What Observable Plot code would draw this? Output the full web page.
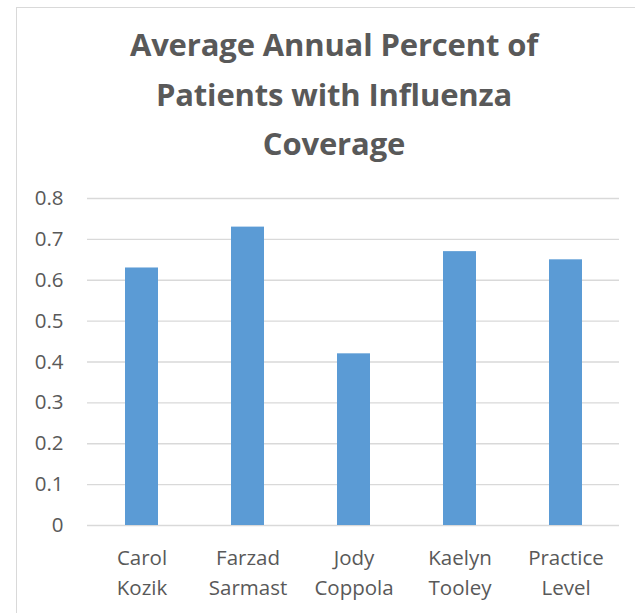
<!DOCTYPE html>
<html>
<head>
<meta charset="utf-8">
<script src="https://cdn.jsdelivr.net/npm/d3@7"></script>
<script src="https://cdn.jsdelivr.net/npm/@observablehq/plot@0.6"></script>
<style>
  html, body { margin: 0; padding: 0; background: #fff; overflow: hidden; }
  body { width: 635px; height: 613px; position: relative; font-family: "Open Sans", sans-serif; }
  #frame { position: absolute; left: 16px; top: 7px; width: 700px; height: 700px;
           border-top: 1.5px solid #d9d9d9; border-left: 1.5px solid #d9d9d9; }
  #title { position: absolute; left: 0; top: 0; width: 635px; height: 180px; }
  #title div { position: absolute; width: 668px; left: 0; text-align: center;
               font-weight: 700; font-size: 31px; color: #595959; letter-spacing: -0.15px; }
  #chart { position: absolute; left: 0; top: 180px; }
</style>
</head>
<body>
<div id="frame"></div>
<div id="title"></div>
<div id="chart"></div>
<script>
const titleLines = ["Average Annual Percent of", "Patients with Influenza", "Coverage"];
const categories = ["Carol\nKozik", "Farzad\nSarmast", "Jody\nCoppola", "Kaelyn\nTooley", "Practice\nLevel"];
const values = [0.63, 0.73, 0.42, 0.67, 0.65];
const yTicks = [0, 0.1, 0.2, 0.3, 0.4, 0.5, 0.6, 0.7, 0.8];

const titleEl = document.getElementById("title");
const baselines = [57, 107, 156];
titleLines.forEach((t, i) => {
  const d = document.createElement("div");
  d.textContent = t;
  d.style.top = (baselines[i] - 34) + "px";
  titleEl.appendChild(d);
});

const data = categories.map((c, i) => ({name: c, value: values[i]}));

const plot = Plot.plot({
  width: 635,
  height: 433,
  marginTop: 18,
  marginBottom: 88,
  marginLeft: 87,
  marginRight: 16,
  style: {fontFamily: "Open Sans, sans-serif", fontSize: "20.5px", color: "#595959", background: "transparent"},
  x: {domain: categories, paddingInner: 0.69, paddingOuter: 0.345, label: null},
  y: {domain: [0, 0.8], label: null},
  marks: [
    Plot.gridY(yTicks, {stroke: "#d9d9d9", strokeOpacity: 1, strokeWidth: 1.3}),
    Plot.barY(data, {x: "name", y: "value", fill: "#5b9bd5"}),
    Plot.axisY(yTicks, {tickSize: 0, tickPadding: 24, tickFormat: d => String(d), fill: "#595959", label: null}),
    Plot.axisX({tickSize: 0, tickPadding: 18, lineHeight: 1.47, fill: "#595959", label: null})
  ]
});
document.getElementById("chart").appendChild(plot);
</script>
</body>
</html>
